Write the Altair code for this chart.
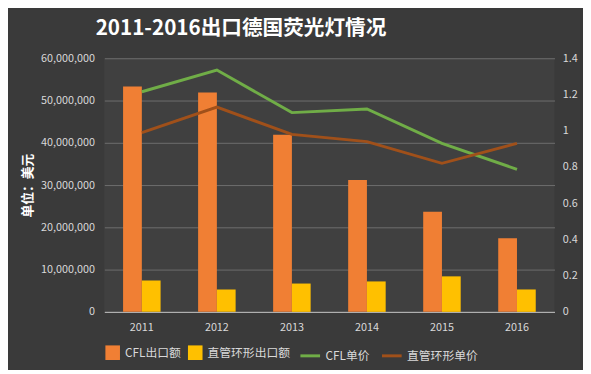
import altair as alt
import pandas as pd

years = ["2011", "2012", "2013", "2014", "2015", "2016"]
cfl_export = [53300000, 51900000, 41900000, 31200000, 23700000, 17400000]
tube_export = [7400000, 5300000, 6700000, 7200000, 8400000, 5300000]
cfl_price = [1.215, 1.335, 1.10, 1.12, 0.93, 0.787]
tube_price = [0.99, 1.13, 0.98, 0.94, 0.82, 0.93]

bar_series = ["CFL出口额", "直管环形出口额"]
line_series = ["CFL单价", "直管环形单价"]
bar_colors = ["#F07F34", "#FFC000"]
line_colors = ["#70AD47", "#A0501A"]

bars = pd.DataFrame(
    [{"year": y, "series": bar_series[0], "value": v} for y, v in zip(years, cfl_export)]
    + [{"year": y, "series": bar_series[1], "value": v} for y, v in zip(years, tube_export)]
)
lines = pd.DataFrame(
    [{"year": y, "series": line_series[0], "value": v} for y, v in zip(years, cfl_price)]
    + [{"year": y, "series": line_series[1], "value": v} for y, v in zip(years, tube_price)]
)

FONT = "Noto Sans CJK SC"
LBL = "#d9d9d9"

x = alt.X("year:N", title=None, sort=years,
          scale=alt.Scale(paddingInner=0.5, paddingOuter=0.25),
          axis=alt.Axis(labelAngle=0, ticks=False, domainColor="#bfbfbf",
                        labelColor=LBL, labelFont=FONT, labelFontSize=11, labelPadding=10))

bar_layer = alt.Chart(bars).mark_bar().encode(
    x=x,
    xOffset=alt.XOffset("series:N", sort=bar_series, scale=alt.Scale(paddingInner=0, paddingOuter=0)),
    y=alt.Y("value:Q", title="单位：美元",
            scale=alt.Scale(domain=[0, 60000000]),
            axis=alt.Axis(values=[0, 10000000, 20000000, 30000000, 40000000, 50000000, 60000000],
                          format=",d", ticks=False, domain=False, grid=True,
                          gridColor="#6e6e6e", gridWidth=1,
                          labelColor=LBL, labelFont=FONT, labelFontSize=11, labelPadding=10,
                          titleColor="#ffffff", titleFont=FONT, titleFontSize=13,
                          titleFontWeight="bold", titlePadding=6)),
    color=alt.Color("series:N", sort=bar_series,
                    scale=alt.Scale(domain=bar_series, range=bar_colors),
                    legend=alt.Legend(title=None, orient="bottom", direction="horizontal",
                                      symbolType="square", symbolSize=220,
                                      labelColor=LBL, labelFont=FONT, labelFontSize=12,
                                      columnPadding=6, offset=12)),
)

line_layer = alt.Chart(lines).mark_line(strokeWidth=3).encode(
    x=x,
    y=alt.Y("value:Q", title=None,
            scale=alt.Scale(domain=[0, 1.4]),
            axis=alt.Axis(orient="right", values=[0, 0.2, 0.4, 0.6, 0.8, 1.0, 1.2, 1.4],
                          format="~g", ticks=False, domain=False, grid=False,
                          labelColor=LBL, labelFont=FONT, labelFontSize=11, labelPadding=8)),
    stroke=alt.Stroke("series:N", sort=line_series,
                      scale=alt.Scale(domain=line_series, range=line_colors),
                      legend=alt.Legend(title=None, orient="bottom", direction="horizontal",
                                        symbolType="stroke", symbolStrokeWidth=3, symbolSize=400,
                                        labelColor=LBL, labelFont=FONT, labelFontSize=12,
                                        columnPadding=6, offset=12)),
)

chart = alt.layer(bar_layer, line_layer).resolve_scale(
    y="independent", color="independent", stroke="independent"
).properties(
    width=458, height=258,
    background="#3a3a3a",
    padding={"left": 14, "right": 5, "top": 7, "bottom": 5},
    title=alt.TitleParams("2011-2016出口德国荧光灯情况", font=FONT, fontSize=21,
                          fontWeight="bold", color="#ffffff", anchor="middle", dx=-90, offset=14),
).configure_view(stroke=None, fill="#404040")

chart.save("out.html", embed_options={"renderer": "svg", "actions": False})
